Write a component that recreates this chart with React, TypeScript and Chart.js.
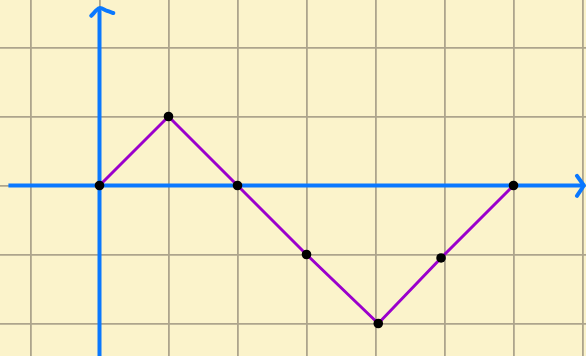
import React, { useEffect, useRef } from "react";
import { Chart, registerables } from "chart.js";

Chart.register(...registerables);

// Main series (grid units)
const xValues = [0, 1, 2, 3, 4.04, 4.95, 6];
const yValues = [0, 1, 0, -1, -2, -1.05, 0];

// Hand-drawn axes and arrowheads (grid units)
const xAxisLine = [[-1.32, 0], [7.02, 0]];
const yAxisLine = [[0, -2.6], [0, 2.57]];
const xArrow = [[6.92, 0.14], [7.02, 0], [6.92, -0.15]];
const yArrow = [[-0.12, 2.46], [0, 2.57], [0.11, 2.53], [0.2, 2.5]];

const toPts = (arr: number[][]) => arr.map(([x, y]) => ({ x, y }));

export default function App() {
  const ref = useRef<HTMLCanvasElement>(null);

  useEffect(() => {
    document.body.style.margin = "0";
    const ctx = ref.current!;
    const blue = "#0A78FF";
    const chart = new Chart(ctx, {
      type: "scatter",
      data: {
        datasets: [
          {
            data: xValues.map((x, i) => ({ x, y: yValues[i] })),
            showLine: true,
            borderColor: "#9B00CC",
            borderWidth: 3,
            pointRadius: 4.8,
            pointBackgroundColor: "#000000",
            pointBorderColor: "#000000",
            pointBorderWidth: 0,
            order: 0,
          },
          {
            data: toPts(xAxisLine),
            showLine: true,
            borderColor: blue,
            borderWidth: 4,
            pointRadius: 0,
            order: 1,
          },
          {
            data: toPts(yAxisLine),
            showLine: true,
            borderColor: blue,
            borderWidth: 4,
            pointRadius: 0,
            order: 1,
          },
          {
            data: toPts(xArrow),
            showLine: true,
            borderColor: blue,
            borderWidth: 4,
            borderCapStyle: "round",
            borderJoinStyle: "round",
            pointRadius: 0,
            order: 1,
          },
          {
            data: toPts(yArrow),
            showLine: true,
            borderColor: blue,
            borderWidth: 4,
            borderCapStyle: "round",
            borderJoinStyle: "round",
            tension: 0.3,
            pointRadius: 0,
            order: 1,
          },
        ],
      },
      options: {
        animation: false,
        responsive: false,
        maintainAspectRatio: false,
        layout: { padding: 0, autoPadding: false },
        plugins: { legend: { display: false }, tooltip: { enabled: false } },
        scales: {
          x: {
            type: "linear",
            min: -99.5 / 69,
            max: (586 - 99.5) / 69,
            ticks: { display: false, stepSize: 1, includeBounds: false },
            grid: { color: "#ADA48C", lineWidth: 1.8, drawTicks: false },
            border: { display: false },
          },
          y: {
            type: "linear",
            min: -(356 - 185.5) / 69,
            max: 185.5 / 69,
            ticks: { display: false, stepSize: 1, includeBounds: false },
            grid: { color: "#ADA48C", lineWidth: 1.8, drawTicks: false },
            border: { display: false },
          },
        },
      },
    });
    return () => chart.destroy();
  }, []);

  return (
    <div style={{ position: "fixed", left: 0, top: 0, width: 586, height: 356, background: "#FBF3CB" }}>
      <canvas ref={ref} width={586} height={356} style={{ display: "block" }} />
    </div>
  );
}
